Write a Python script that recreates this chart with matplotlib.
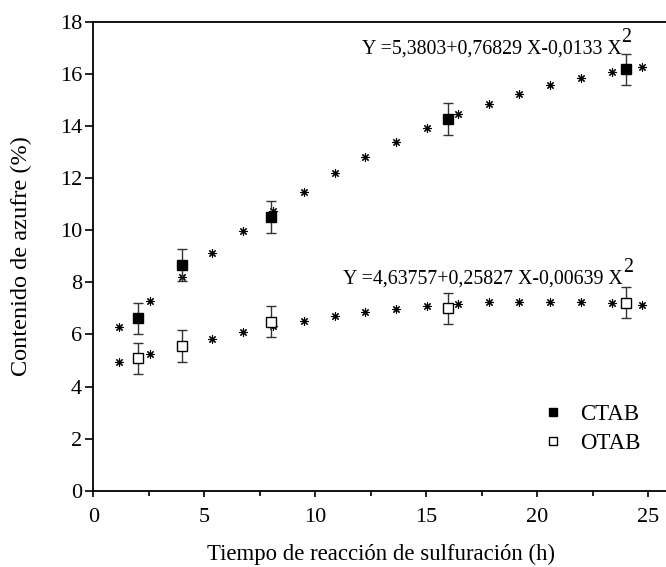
import matplotlib
matplotlib.use('Agg')
import matplotlib.pyplot as plt
from matplotlib.lines import Line2D

plt.rcParams['font.family'] = ['Liberation Serif', 'DejaVu Serif']

# measured points (mean +/- error)
t_exp = [2, 4, 8, 16, 24]
ctab = [6.62, 8.67, 10.51, 14.27, 16.18]
ctab_err = [0.6, 0.6, 0.6, 0.6, 0.6]
otab = [5.08, 5.56, 6.49, 7.0, 7.22]
otab_err = [0.6, 0.6, 0.6, 0.6, 0.6]

# fitted curve points (asterisks)
t_fit = [1.17, 2.57, 3.98, 5.35, 6.73, 8.11, 9.5, 10.89, 12.25, 13.66,
         15.05, 16.41, 17.81, 19.19, 20.57, 21.95, 23.35, 24.73]
ctab_fit = [6.29, 7.29, 8.22, 9.12, 9.97, 10.75, 11.48, 12.19, 12.83, 13.40,
            13.94, 14.45, 14.86, 15.22, 15.57, 15.86, 16.09, 16.26]
otab_fit = [4.93, 5.26, 5.56, 5.83, 6.11, 6.33, 6.53, 6.70, 6.86, 6.98,
            7.08, 7.17, 7.23, 7.25, 7.25, 7.23, 7.21, 7.12]

eq_ctab = 'Y =5,3803+0,76829 X-0,0133 X'
eq_otab = 'Y =4,63757+0,25827 X-0,00639 X'

fig = plt.figure(figsize=(6.66, 5.67), dpi=100)
ax = fig.add_axes([0.140, 0.1346, 0.860, 0.8266])

star = (8, 2, 0)
ax.plot(t_fit, ctab_fit, ls='none', marker=star, ms=6, mew=0.8, color='black')
ax.plot(t_fit, otab_fit, ls='none', marker=star, ms=6, mew=0.8, color='black')

ax.errorbar(t_exp, ctab, yerr=ctab_err, fmt='s', ms=6.5, color='black',
            ecolor='#333333', elinewidth=1, capsize=3.5, capthick=1)
ax.errorbar(t_exp, otab, yerr=otab_err, fmt='s', ms=6.5, mfc='white', mec='black',
            mew=1, color='black', ecolor='#333333', elinewidth=1, capsize=3.5, capthick=1)

# equations, with a full-size raised "2" like the original
for x0, y0, s in [(12.09, 16.80, eq_ctab), (11.26, 7.96, eq_otab)]:
    t = ax.text(x0, y0, s, fontsize=14.3, va='baseline')
    ax.annotate('2', xy=(1.0, 0.6), xycoords=t, fontsize=14.3, va='bottom', ha='left')

ax.set_xlim(0, 25.8)
ax.set_ylim(0, 18)
ax.set_xticks([0, 5, 10, 15, 20, 25])
ax.set_xticks([2.5, 7.5, 12.5, 17.5, 22.5], minor=True)
ax.set_yticks(range(0, 19, 2))
ax.tick_params(axis='both', labelsize=16, direction='out', width=1.2)
ax.tick_params(axis='y', length=6, pad=2)
ax.tick_params(axis='x', length=4.5, pad=8)
ax.tick_params(axis='x', which='minor', length=3.5, width=1.2)

ax.spines['right'].set_visible(False)
for s in ['left', 'bottom', 'top']:
    ax.spines[s].set_linewidth(1.3)

ax.set_xlabel('Tiempo de reacción de sulfuración (h)', fontsize=16.4)
ax.set_ylabel('Contenido de azufre (%)', fontsize=17.5)
ax.xaxis.set_label_coords(0.502, -0.114)
ax.yaxis.set_label_coords(-0.106, 0.5)

handles = [
    Line2D([], [], ls='none', marker='s', ms=6, color='black', label='CTAB'),
    Line2D([], [], ls='none', marker='s', ms=5.5, mfc='white', mec='black', mew=1, label='OTAB'),
]
ax.legend(handles=handles, loc='upper left', bbox_to_anchor=(20.19, 3.33),
          bbox_transform=ax.transData, borderpad=0, borderaxespad=0,
          frameon=False, fontsize=16.5, handletextpad=0.68, labelspacing=0.36,
          handlelength=1)

fig.savefig('out.png', dpi=100)
